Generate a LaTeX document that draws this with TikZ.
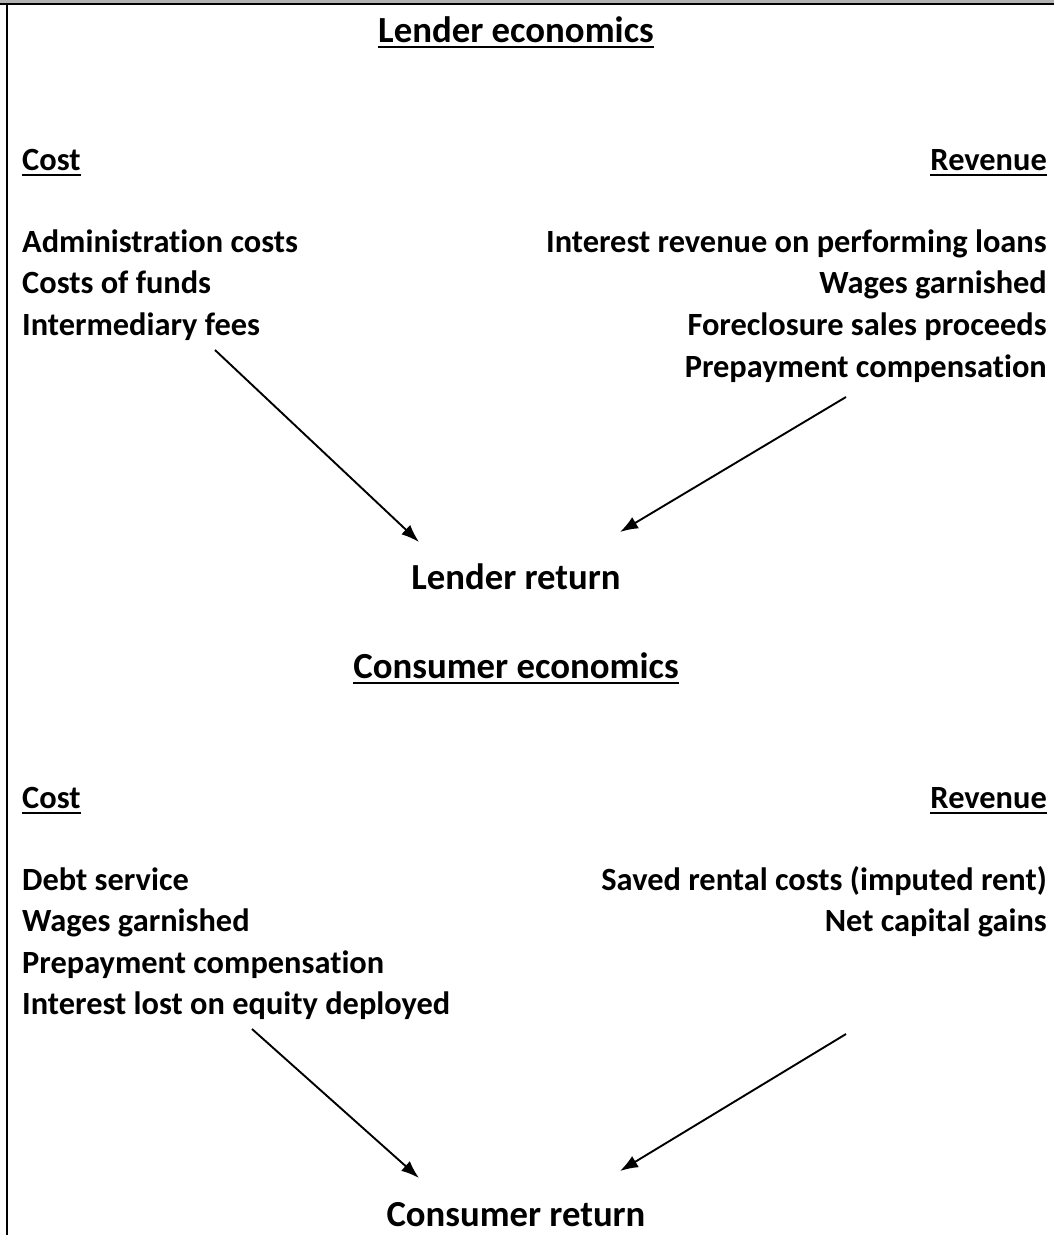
\documentclass[tikz,border=0pt]{standalone}
\usepackage{fontspec}
\setmainfont{Carlito}[Ligatures={NoCommon}]
\usetikzlibrary{arrows.meta}
\tikzset{
  body/.style={inner sep=0pt, font=\fontsize{32.4}{36}\selectfont\bfseries},
  head/.style={inner sep=0pt, font=\fontsize{36.8}{42}\selectfont\bfseries, anchor=base},
  ret/.style={inner sep=0pt, font=\fontsize{36.7}{42}\selectfont\bfseries, anchor=base},
  lft/.style={body, anchor=base west},
  rgt/.style={body, anchor=base east},
  uline/.style={line width=2.6pt},
  conn/.style={line width=1.9pt, -{Latex[length=18pt,width=13pt]}},
}
\begin{document}
\begin{tikzpicture}[x=1pt,y=-1pt]
\useasboundingbox (0,0) rectangle (1054,1235);
\fill[white] (0,0) rectangle (1054,1235);
\fill[black!30] (0,0) rectangle (1054,3);
\draw[line width=2.4pt] (0,4) -- (1054,4);
\draw[line width=2.4pt] (7,4) -- (7,1235);

% Lender economics
\node[head] (h1) at (516,42) {Lender economics};
\draw[uline] ([yshift=-5pt]h1.base west) -- ([yshift=-5pt]h1.base east);
\node[lft] (c1) at (22,170) {Cost};
\draw[uline] ([yshift=-5pt]c1.base west) -- ([yshift=-5pt]c1.base east);
\node[rgt] (r1) at (1047,170) {Revenue};
\draw[uline] ([yshift=-5pt]r1.base west) -- ([yshift=-5pt]r1.base east);

\node[lft] (l1) at (22,252) {Administration costs};
\node[lft] (l2) at (22,293) {Costs of funds};
\node[lft] (l3) at (22,335) {Intermediary fees};

\node[rgt] (q1) at (1047,252) {Interest revenue on performing loans};
\node[rgt] (q2) at (1047,293) {Wages garnished};
\node[rgt] (q3) at (1047,335) {Foreclosure sales proceeds};
\node[rgt] (q4) at (1047,377) {Prepayment compensation};

\node[ret] (lr) at (516,589) {Lender return};
\coordinate (a1s) at (215,350);
\coordinate (a1e) at (419,542);
\coordinate (a2s) at (846,397);
\coordinate (a2e) at (620,532);
\draw[conn] (a1s) -- (a1e);
\draw[conn] (a2s) -- (a2e);

% Consumer economics
\node[head] (h2) at (516,678) {Consumer economics};
\draw[uline] ([yshift=-5pt]h2.base west) -- ([yshift=-5pt]h2.base east);
\node[lft] (c2) at (22,808) {Cost};
\draw[uline] ([yshift=-5pt]c2.base west) -- ([yshift=-5pt]c2.base east);
\node[rgt] (r2) at (1047,808) {Revenue};
\draw[uline] ([yshift=-5pt]r2.base west) -- ([yshift=-5pt]r2.base east);

\node[lft] (m1) at (22,890) {Debt service};
\node[lft] (m2) at (22,931) {Wages garnished};
\node[lft] (m3) at (22,973) {Prepayment compensation};
\node[lft] (m4) at (22,1014) {Interest lost on equity deployed};

\node[rgt] (p1) at (1047,890) {Saved rental costs (imputed rent)};
\node[rgt] (p2) at (1047,931) {Net capital gains};

\node[ret] (cr) at (516,1226) {Consumer return};
\coordinate (a3s) at (252,1029);
\coordinate (a3e) at (419,1178);
\coordinate (a4s) at (846,1034);
\coordinate (a4e) at (620,1171);
\draw[conn] (a3s) -- (a3e);
\draw[conn] (a4s) -- (a4e);
\end{tikzpicture}
\end{document}
